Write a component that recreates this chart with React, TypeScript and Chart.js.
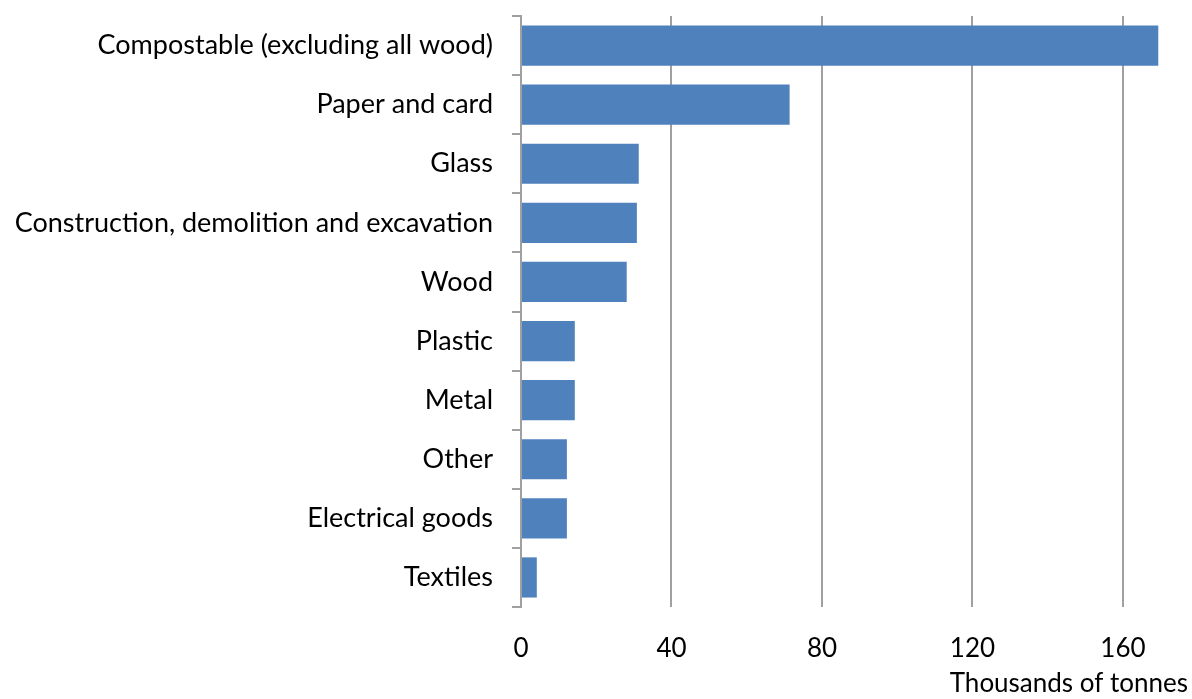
import React, { useEffect, useRef } from "react";
import { Chart, registerables } from "chart.js";

Chart.register(...registerables);

const categories = [
  "Compostable (excluding all wood)",
  "Paper and card",
  "Glass",
  "Construction, demolition and excavation",
  "Wood",
  "Plastic",
  "Metal",
  "Other",
  "Electrical goods",
  "Textiles",
];
const values = [169.4, 71.4, 31.3, 30.8, 28.1, 14.3, 14.3, 12.2, 12.2, 4.2];
const xTicks = [0, 40, 80, 120, 160];
const xTitle = "Thousands of tonnes";

const FONT = "Lato, 'Open Sans', sans-serif";
const GRID = "#a0a0a0";

export default function App() {
  const ref = useRef<HTMLCanvasElement | null>(null);
  useEffect(() => {
    if (!ref.current) return;
    const chart = new Chart(ref.current, {
      type: "bar",
      data: {
        labels: categories,
        datasets: [
          {
            data: values,
            backgroundColor: "#4f81bd",
            borderWidth: 0,
            barPercentage: 0.68,
            categoryPercentage: 1,
          },
        ],
      },
      options: {
        indexAxis: "y",
        responsive: false,
        animation: false,
        devicePixelRatio: 1,
        layout: { padding: { top: 16, right: 4, bottom: 0, left: 0 } },
        plugins: { legend: { display: false }, tooltip: { enabled: false } },
        scales: {
          x: {
            min: 0,
            max: 177.3,
            afterBuildTicks: (axis: any) => {
              axis.ticks = xTicks.map((v) => ({ value: v }));
            },
            afterFit: (axis: any) => {
              axis.height = 92;
              axis.paddingLeft = 0;
              axis.paddingRight = 0;
            },
            grid: {
              color: GRID,
              lineWidth: 2,
              drawTicks: false,
            },
            border: { display: false },
            ticks: {
              color: "#000",
              padding: 26,
              font: { family: FONT, size: 26 },
              maxRotation: 0,
            },
            title: {
              display: true,
              text: xTitle,
              align: "end",
              color: "#000",
              font: { family: FONT, size: 26 },
              padding: { top: 4, bottom: 0 },
            },
          },
          y: {
            afterFit: (axis: any) => {
              axis.width = 521;
              axis.paddingTop = 0;
              axis.paddingBottom = 0;
            },
            grid: {
              offset: true,
              drawOnChartArea: false,
              drawTicks: true,
              tickLength: 9,
              color: GRID,
              lineWidth: 2,
            },
            border: { display: true, color: GRID, width: 2 },
            ticks: {
              color: "#000",
              padding: 19,
              font: { family: FONT, size: 27 },
            },
          },
        },
      },
    });
    return () => chart.destroy();
  }, []);
  return (
    <div style={{ position: "fixed", left: 0, top: 0, width: 1192, height: 699, background: "#fff" }}>
      <canvas ref={ref} width={1192} height={699} style={{ display: "block" }} />
    </div>
  );
}
